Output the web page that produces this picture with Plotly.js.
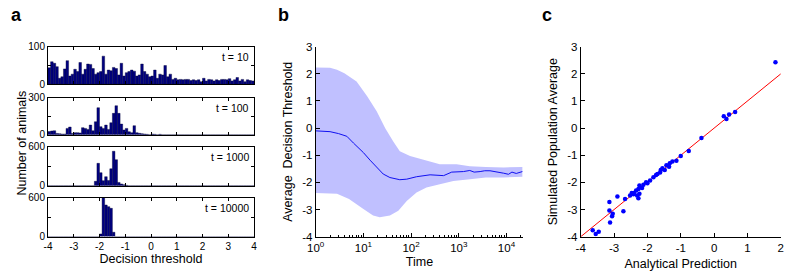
<!DOCTYPE html>
<html>
<head>
<meta charset="utf-8">
<script src="https://cdn.plot.ly/plotly-3.0.1.min.js"></script>
<style>html,body{margin:0;padding:0;background:#fff;}#chart{width:800px;height:280px;}</style>
</head>
<body>
<div id="chart"></div>
<script>
// ---------- Panel a: histograms (bins of width 0.1 from -4 to 4) ----------
const binStart = -4;
const binWidth = 0.1;
const histLabels = ['t = 10', 't = 100', 't = 1000', 't = 10000'];
const histYMax = [100, 300, 600, 600];
const histYTickText = [['0', '100'], ['0', '300'], ['0', '600'], ['0', '600']];

const countsT10 = [44,60,56,47,16,20,41,63,22,27,40,34,58,27,40,54,53,42,27,31,34,75,27,38,36,45,42,25,56,22,31,34,38,35,22,25,54,34,27,20,22,38,16,27,25,50,20,27,13,16,12,13,12,13,13,10,12,10,12,7,16,9,13,12,9,12,10,13,13,12,15,9,12,18,9,13,7,12,10,9];
const countsT100 = [25,30,32,10,8,5,5,51,62,10,16,16,14,57,51,43,78,32,105,219,65,51,78,43,97,173,235,173,86,38,51,24,16,73,16,11,8,5,3,0,5,3,0,3,0,0,0,0,0,0,0,0,0,0,0,0,0,0,0,0,0,0,0,0,0,0,0,0,0,0,0,0,0,0,0,0,0,0,0,0];
const countsT1000 = [0,0,0,0,0,0,0,0,0,0,0,0,0,0,0,0,0,0,67,344,200,77,138,80,260,530,400,50,26,15,5,0,0,0,0,0,0,0,0,0,0,0,0,0,0,0,0,0,0,0,0,0,0,0,0,0,0,0,0,0,0,0,0,0,0,0,0,0,0,0,0,0,0,0,0,0,0,0,0,0];
const countsT10000 = [0,0,0,0,0,0,0,0,0,0,0,0,0,0,0,0,0,0,0,0,41,600,487,462,436,67,0,0,0,0,0,0,0,0,0,0,0,0,0,0,0,0,0,0,0,0,0,0,0,0,0,0,0,0,0,0,0,0,0,0,0,0,0,0,0,0,0,0,0,0,0,0,0,0,0,0,0,0,0,0];
const histCounts = [countsT10, countsT100, countsT1000, countsT10000];
const thresholdTicks = [-4, -3, -2, -1, 0, 1, 2, 3, 4];
const thresholdTickText = ['-4', '-3', '-2', '-1', '0', '1', '2', '3', '4'];

// ---------- Panel b: average decision threshold over time ----------
const meanT = [1, 2, 3, 4.5, 6.2, 10, 13.8, 19, 26, 36, 58, 81, 130, 250, 330, 480, 710, 1000, 1250, 1700, 2100, 2800, 3500, 4500, 6000, 8700, 11000, 13000, 16000, 21500];
const meanV = [-0.1, -0.13, -0.2, -0.3, -0.55, -0.9, -1.18, -1.45, -1.69, -1.82, -1.9, -1.88, -1.79, -1.72, -1.74, -1.75, -1.62, -1.62, -1.6, -1.56, -1.62, -1.6, -1.57, -1.57, -1.6, -1.66, -1.7, -1.62, -1.67, -1.6];
const upperT = [1, 2, 2.8, 4, 7.2, 12, 19, 28.7, 42, 58, 95, 210, 400, 900, 1700, 3700, 8700, 21500];
const upperV = [2.23, 2.22, 2.15, 2.02, 1.72, 1.17, 0.62, 0.0, -0.48, -0.85, -1.03, -1.21, -1.33, -1.33, -1.4, -1.43, -1.45, -1.43];
const lowerT = [1, 2.8, 5, 10, 16, 22, 36, 54, 81, 130, 210, 400, 770, 1700, 3700, 8700, 21500];
const lowerV = [-2.39, -2.42, -2.61, -2.98, -3.22, -3.28, -3.22, -3.04, -2.68, -2.37, -2.19, -2.07, -1.95, -1.88, -1.82, -1.82, -1.79];
const timeTickVals = [1, 10, 100, 1000, 10000];
const timeTickText = ['10<sup>0</sup>', '10<sup>1</sup>', '10<sup>2</sup>', '10<sup>3</sup>', '10<sup>4</sup>'];
const thresholdYTicks = [-4, -3, -2, -1, 0, 1, 2, 3];
const thresholdYText = ['-4', '-3', '-2', '-1', '0', '1', '2', '3'];

// ---------- Panel c: simulated vs analytical ----------
const predX = [1.84, 0.29, 0.37, 0.45, 0.63, -0.38, -0.76, -1.0, -1.13, -1.25, -1.33, -1.35, -1.43, -1.48, -1.55, -1.6, -1.62, -1.7, -1.74, -1.82, -1.92, -2.0, -2.04, -2.12, -2.16, -2.22, -2.24, -2.27, -2.34, -2.4, -2.47, -2.24, -2.27, -2.31, -2.52, -2.42, -2.67, -2.9, -2.72, -3.14, -3.14, -3.04, -3.06, -3.12, -3.64, -3.55, -3.46];
const simY  = [2.43, 0.44, 0.34, 0.5, 0.59, -0.36, -0.84, -1.03, -1.2, -1.23, -1.29, -1.42, -1.37, -1.54, -1.48, -1.54, -1.63, -1.69, -1.73, -1.81, -1.93, -2.03, -1.99, -2.09, -2.21, -2.18, -2.11, -2.24, -2.3, -2.39, -2.39, -2.42, -2.58, -2.48, -2.48, -2.44, -2.61, -2.52, -3.06, -2.72, -3.03, -3.15, -3.25, -3.48, -3.76, -3.9, -3.82];
const identityX = [-4, 2];
const identityY = [-4, 2];
const predTicks = [-4, -3, -2, -1, 0, 1, 2];
const predTickText = ['-4', '-3', '-2', '-1', '0', '1', '2'];

// ---------- build ----------
const FONT = 'Liberation Sans, Arial, sans-serif';
const binCenters = countsT10.map((_, i) => binStart + binWidth * (i + 0.5));
const traces = [];
histCounts.forEach((counts, k) => {
  traces.push({
    type: 'bar', x: binCenters, y: counts, width: binWidth,
    xaxis: 'x' + (k === 0 ? '' : k + 1), yaxis: 'y' + (k === 0 ? '' : k + 1),
    marker: {color: '#000080', line: {color: '#000033', width: 0.4}},
    hoverinfo: 'skip', showlegend: false
  });
});
traces.push({
  type: 'scatter', mode: 'lines',
  x: upperT.concat(lowerT.slice().reverse()),
  y: upperV.concat(lowerV.slice().reverse()),
  fill: 'toself', fillcolor: '#c0c0ff', line: {width: 0, color: '#c0c0ff'},
  xaxis: 'x5', yaxis: 'y5', showlegend: false, hoverinfo: 'skip'
});
traces.push({
  type: 'scatter', mode: 'lines', x: meanT, y: meanV,
  line: {color: '#1010f0', width: 1}, xaxis: 'x5', yaxis: 'y5', showlegend: false
});
traces.push({
  type: 'scatter', mode: 'lines', x: identityX, y: identityY,
  line: {color: '#ff0000', width: 1}, xaxis: 'x6', yaxis: 'y6', showlegend: false
});
traces.push({
  type: 'scatter', mode: 'markers', x: predX, y: simY,
  marker: {color: '#0000ff', size: 4.5}, xaxis: 'x6', yaxis: 'y6', showlegend: false
});
// invisible trace so the overlay minor-tick axis is drawn
traces.push({
  type: 'scatter', mode: 'markers', x: [meanT[0]], y: [meanV[0]],
  marker: {opacity: 0}, xaxis: 'x7', yaxis: 'y5', showlegend: false, hoverinfo: 'skip'
});

const aDomainX = [0.06, 0.3175];
const aDomainsY = [[0.699, 0.833], [0.519, 0.651], [0.337, 0.476], [0.155, 0.294]];
const tickFontA = {family: FONT, size: 10, color: '#000'};
const tickFontBC = {family: FONT, size: 11.5, color: '#000'};
const titleFont = {family: FONT, size: 12.5, color: '#000'};

const layout = {
  width: 800, height: 280,
  margin: {l: 0, r: 0, t: 0, b: 0},
  paper_bgcolor: '#fff', plot_bgcolor: 'rgba(0,0,0,0)',
  bargap: 0, showlegend: false,
  font: {family: FONT, color: '#000'},
  annotations: []
};
aDomainsY.forEach((dom, k) => {
  const sfx = k === 0 ? '' : String(k + 1);
  const xa = {
    domain: aDomainX, range: [-4, 4], anchor: 'y' + sfx,
    showline: true, mirror: 'ticks', linecolor: '#000', linewidth: 1,
    ticks: 'inside', ticklen: 3, tickcolor: '#000',
    tickvals: thresholdTicks, ticktext: thresholdTickText,
    showticklabels: k === 3, tickfont: tickFontA, showgrid: false, zeroline: false
  };
  if (k === 3) xa.title = {text: 'Decision threshold', font: titleFont, standoff: 3};
  layout['xaxis' + sfx] = xa;
  const ymax = histYMax[k];
  layout['yaxis' + sfx] = {
    domain: dom, range: [0, ymax], anchor: 'x' + sfx,
    showline: true, mirror: 'ticks', linecolor: '#000', linewidth: 1,
    ticks: 'inside', ticklen: 3, tickcolor: '#000',
    tickvals: [0, ymax], ticktext: histYTickText[k],
    minor: {tickmode: 'array', tickvals: [ymax / 2], ticks: 'inside', ticklen: 3, tickcolor: '#000', showgrid: false},
    tickfont: tickFontA, showgrid: false, zeroline: false
  };
  layout.annotations.push({
    xref: 'x' + sfx + ' domain', yref: 'y' + sfx + ' domain', x: 0.985, y: 0.93,
    xanchor: 'right', yanchor: 'top', showarrow: false, text: histLabels[k],
    font: {family: FONT, size: 10.5, color: '#000'}
  });
});
layout.xaxis5 = {
  domain: [0.3946, 0.654], type: 'log', range: [0, 4.35], anchor: 'y5',
  showline: true, linecolor: '#000', linewidth: 1, ticks: 'inside', ticklen: 4, tickcolor: '#000',
  tickvals: timeTickVals, ticktext: timeTickText, tickfont: tickFontBC,
  showgrid: false, zeroline: false,
  title: {text: 'Time', font: titleFont, standoff: 4}
};
layout.xaxis7 = {
  domain: [0.3946, 0.654], type: 'log', range: [0, 4.35], anchor: 'y5', overlaying: 'x5', side: 'bottom',
  showline: false, ticks: 'inside', ticklen: 2, tickcolor: '#000', dtick: 'D1',
  showticklabels: false, showgrid: false, zeroline: false
};
layout.yaxis5 = {
  domain: [0.1546, 0.8332], range: [-4, 3], anchor: 'x5',
  showline: true, linecolor: '#000', linewidth: 1, ticks: 'inside', ticklen: 4, tickcolor: '#000',
  tickvals: thresholdYTicks, ticktext: thresholdYText,
  tickfont: tickFontBC, showgrid: false, zeroline: false,
  title: {text: 'Average  Decision Threshold', font: titleFont, standoff: 6}
};
layout.xaxis6 = {
  domain: [0.7259, 0.976], range: [-4, 2], anchor: 'y6',
  showline: true, linecolor: '#000', linewidth: 1, ticks: 'inside', ticklen: 4, tickcolor: '#000',
  tickvals: predTicks, ticktext: predTickText,
  tickfont: tickFontBC, showgrid: false, zeroline: false,
  title: {text: 'Analytical Prediction', font: titleFont, standoff: 6}
};
layout.yaxis6 = {
  domain: [0.1546, 0.8332], range: [-4, 3], anchor: 'x6',
  showline: true, linecolor: '#000', linewidth: 1, ticks: 'inside', ticklen: 4, tickcolor: '#000',
  tickvals: thresholdYTicks, ticktext: thresholdYText,
  tickfont: tickFontBC, showgrid: false, zeroline: false,
  title: {text: 'Simulated Population Average', font: titleFont, standoff: 6}
};
layout.annotations.push({
  xref: 'paper', yref: 'paper', x: 0.016, y: 0.49, textangle: -90, showarrow: false,
  text: 'Number of animals', font: titleFont
});
[['a', 0.021], ['b', 0.354], ['c', 0.684]].forEach(([t, x]) => {
  layout.annotations.push({
    xref: 'paper', yref: 'paper', x: x, y: 0.945, showarrow: false, xanchor: 'center', yanchor: 'middle',
    text: '<b>' + t + '</b>', font: {family: FONT, size: 18, color: '#000'}
  });
});

Plotly.newPlot('chart', traces, layout, {staticPlot: true, displayModeBar: false});
</script>
</body>
</html>
